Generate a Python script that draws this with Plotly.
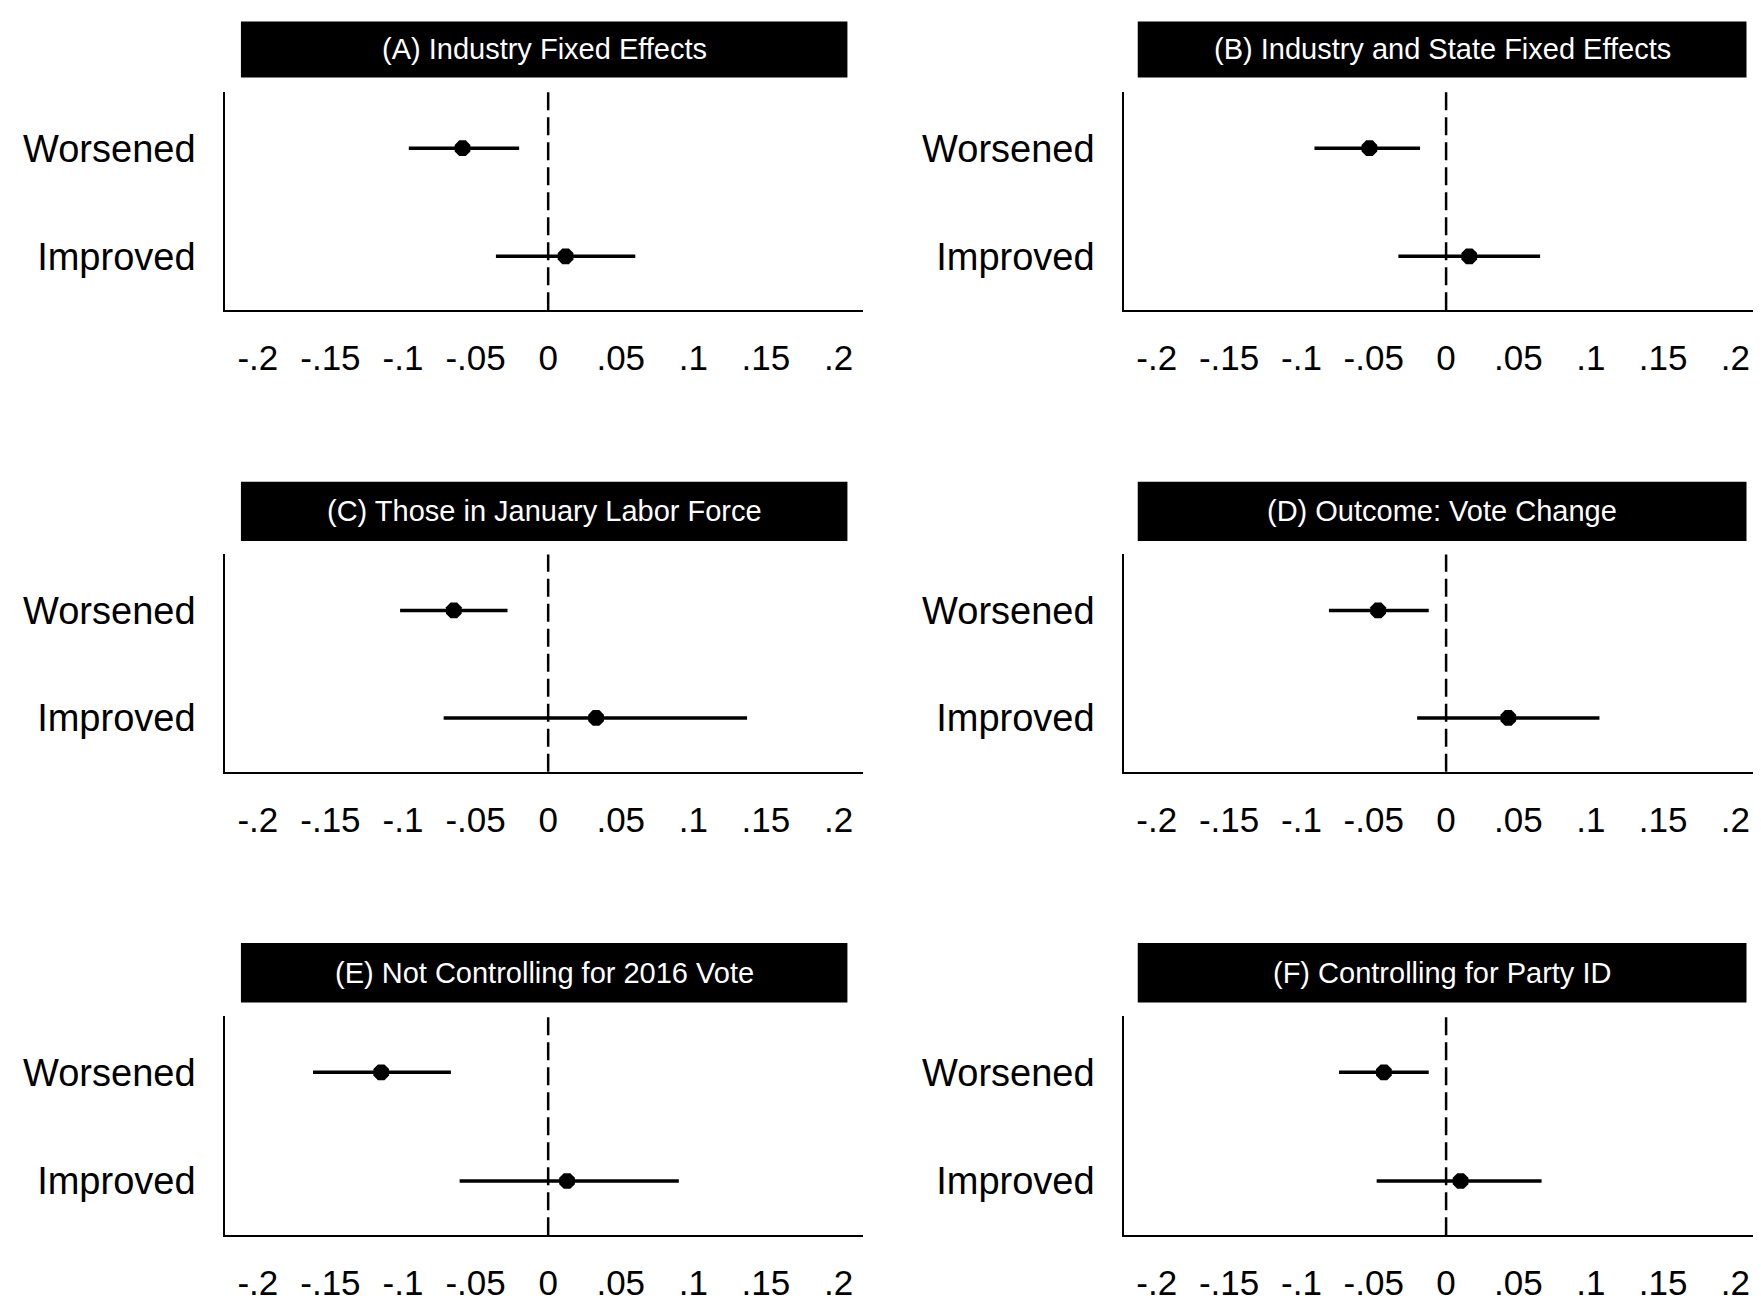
import plotly.graph_objects as go

titles = ["(A) Industry Fixed Effects", "(B) Industry and State Fixed Effects",
          "(C) Those in January Labor Force", "(D) Outcome: Vote Change",
          "(E) Not Controlling for 2016 Vote", "(F) Controlling for Party ID"]
categories = ["Worsened", "Improved"]
est = [[-0.059, 0.012], [-0.053, 0.016], [-0.065, 0.033],
       [-0.047, 0.043], [-0.115, 0.013], [-0.043, 0.010]]
lo = [[-0.096, -0.036], [-0.091, -0.033], [-0.102, -0.072],
      [-0.081, -0.020], [-0.162, -0.061], [-0.074, -0.048]]
hi = [[-0.020, 0.060], [-0.018, 0.065], [-0.028, 0.137],
      [-0.012, 0.106], [-0.067, 0.090], [-0.012, 0.066]]
tickvals = [-0.2, -0.15, -0.1, -0.05, 0, 0.05, 0.1, 0.15, 0.2]
ticktext = ["-.2", "-.15", "-.1", "-.05", "0", ".05", ".1", ".15", ".2"]

W, H = 1565.0, 1160.0
colx = [(193, 760, 207, 746), (992, 1557, 1004, 1545)]
rowy = [(75, 270, 12, 62), (488, 682, 423, 476), (900, 1096, 835, 888)]

fig = go.Figure()
font = "Liberation Sans, Arial, sans-serif"
for i in range(6):
    r, c = divmod(i, 2)
    x0, x1, tx0, tx1 = colx[c]
    y0, y1, ty0, ty1 = rowy[r]
    xa = "xaxis" if i == 0 else f"xaxis{i+1}"
    ya = "yaxis" if i == 0 else f"yaxis{i+1}"
    xr = "x" if i == 0 else f"x{i+1}"
    yr = "y" if i == 0 else f"y{i+1}"
    yvals = [1, 0]
    for k in range(2):
        fig.add_trace(go.Scatter(x=[lo[i][k], hi[i][k]], y=[yvals[k]] * 2, mode="lines",
                                 line=dict(color="black", width=3.5), xaxis=xr, yaxis=yr,
                                 showlegend=False))
    fig.add_trace(go.Scatter(x=est[i], y=yvals, mode="markers",
                             marker=dict(color="black", size=17, symbol="octagon"),
                             xaxis=xr, yaxis=yr, showlegend=False))
    fig.layout[xa] = dict(domain=[x0 / W, x1 / W], range=[-0.2225, 0.217], anchor=yr,
                          tickvals=tickvals, ticktext=ticktext, showgrid=False, zeroline=False,
                          showline=True, linecolor="black", linewidth=2, ticks="",
                          tickfont=dict(size=35, color="black", family=font), ticklabelstandoff=16)
    fig.layout[ya] = dict(domain=[1 - y1 / H, 1 - y0 / H], range=[-0.5, 1.52], anchor=xr,
                          tickvals=yvals, ticktext=categories, showgrid=False, zeroline=False,
                          showline=True, linecolor="black", linewidth=2, ticks="",
                          tickfont=dict(size=38, color="black", family=font), ticklabelstandoff=20)
    fig.add_shape(type="line", xref=xr, yref=f"{yr} domain", x0=0, x1=0, y0=0, y1=1,
                  line=dict(color="black", width=2.5, dash="18px,7px"))
    fig.add_shape(type="rect", xref="paper", yref="paper", x0=tx0 / W, x1=tx1 / W,
                  y0=1 - ty1 / H, y1=1 - ty0 / H, fillcolor="black", line=dict(width=0),
                  layer="below")
    fig.add_annotation(xref="paper", yref="paper", x=(tx0 + tx1) / 2 / W, y=1 - (ty0 + ty1) / 2 / H,
                       xanchor="center", yanchor="middle",
                       text=titles[i], showarrow=False,
                       font=dict(size=29, color="white", family=font))

fig.update_layout(width=1761, height=1299, margin=dict(l=0, r=0, t=0, b=0),
                  plot_bgcolor="rgba(0,0,0,0)", paper_bgcolor="white")
fig.write_html("out.html")
